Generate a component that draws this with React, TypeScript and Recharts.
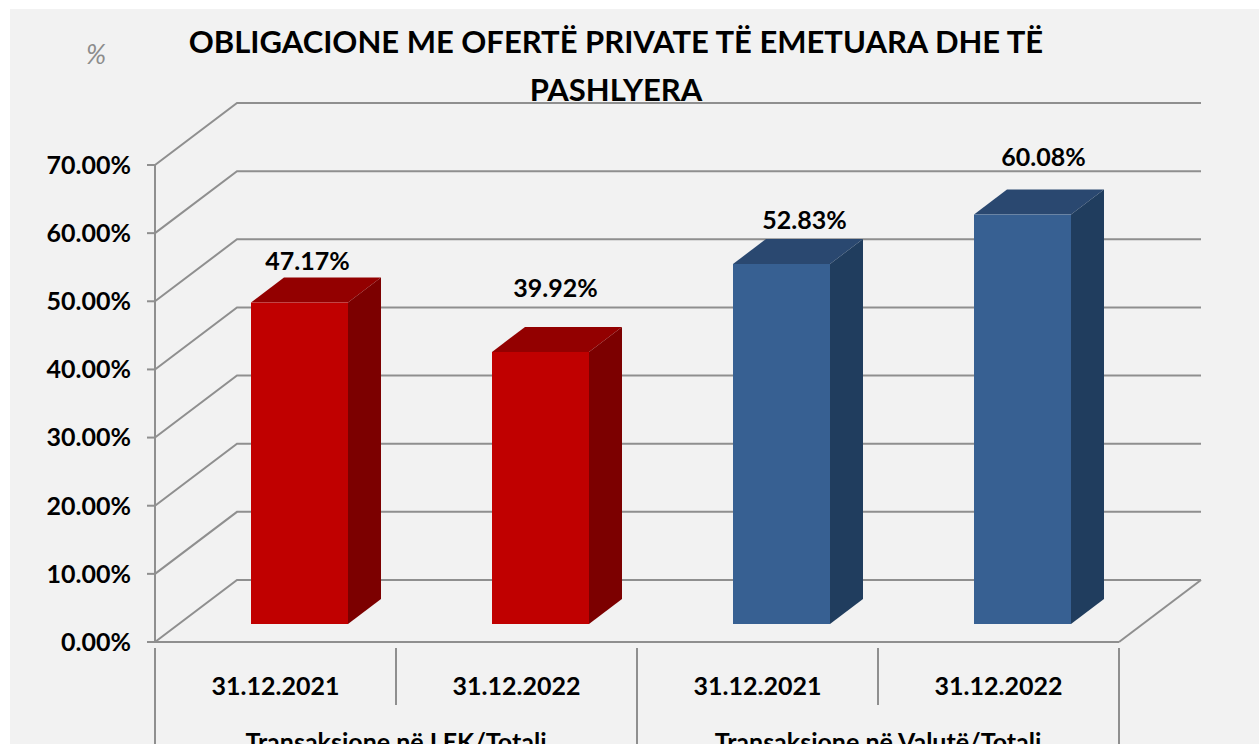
import { BarChart, Bar, XAxis, YAxis, CartesianGrid, Cell, LabelList } from 'recharts'

const periods = ['31.12.2021', '31.12.2022', '31.12.2021', '31.12.2022']
const groups = ['Transaksione në LEK/Totali', 'Transaksione në LEK/Totali', 'Transaksione në Valutë/Totali', 'Transaksione në Valutë/Totali']
const shares = [47.17, 39.92, 52.83, 60.08]
const yTicks = [0, 10, 20, 30, 40, 50, 60, 70]

const chartData = periods.map((period, i) => ({ period, group: groups[i], share: shares[i] }))

const WIDTH = 1259
const HEIGHT = 744
const PLOT_LEFT = 155
const PLOT_RIGHT = 1119
const BAND = (PLOT_RIGHT - PLOT_LEFT) / periods.length
const DEPTH_X = 82
const DEPTH_Y = 62
const GRID = '#8f8f8f'
const FONT = 'Lato, sans-serif'

const faces = [
  { front: '#c00000', top: '#930000', side: '#7c0000' },
  { front: '#c00000', top: '#930000', side: '#7c0000' },
  { front: '#376092', top: '#2a4870', side: '#203d5e' },
  { front: '#376092', top: '#2a4870', side: '#203d5e' },
]
// where the labels sit relative to the bar top, they are not evenly placed in the original
const labelNudge = [
  { dx: 8, dy: -42 },
  { dx: 15, dy: -64 },
  { dx: 23, dy: -44 },
  { dx: 21, dy: -58 },
]

function Bar3D(props: any) {
  const { x, y, width, height, index } = props
  const c = faces[index]
  // bars stand on the middle of the floor, not on the front edge
  const left = x + 24
  const top = y - 18
  const right = left + width
  const bottom = top + height
  const dx = 33
  const dy = 25
  return (
    <g>
      <path d={`M${left},${top} L${left + dx},${top - dy} L${right + dx},${top - dy} L${right},${top} Z`} fill={c.top} />
      <path d={`M${right},${top} L${right + dx},${top - dy} L${right + dx},${bottom - dy} L${right},${bottom} Z`} fill={c.side} />
      <rect x={left} y={top} width={width} height={height} fill={c.front} />
    </g>
  )
}

function WallLine(props: any) {
  const { x1, x2, y1, index } = props
  const isFloor = index === 0 || y1 > 630
  return (
    <g stroke={GRID} strokeWidth={2} fill="none">
      <path d={`M${x1},${y1} L${x1 + DEPTH_X},${y1 - DEPTH_Y} L${x2 + DEPTH_X},${y1 - DEPTH_Y}`} />
      {isFloor && <path d={`M${x2},${y1} L${x2 + DEPTH_X},${y1 - DEPTH_Y}`} />}
    </g>
  )
}

function CategoryTick(props: any) {
  const { x, y, payload } = props
  const i = payload.index
  const edge = x - BAND / 2
  const startsGroup = i % 2 === 0
  return (
    <g>
      <line x1={edge} y1={y} x2={edge} y2={startsGroup ? HEIGHT : y + 57} stroke={GRID} strokeWidth={2} />
      {i === periods.length - 1 && (
        <line x1={edge + BAND} y1={y} x2={edge + BAND} y2={HEIGHT} stroke={GRID} strokeWidth={2} />
      )}
      <text x={x} y={y + 47} textAnchor="middle" fontFamily={FONT} fontWeight={700} fontSize={25} fill="#000">
        {payload.value}
      </text>
      {startsGroup && (
        <text x={edge + BAND} y={y + 103} textAnchor="middle" fontFamily={FONT} fontWeight={700} fontSize={25} fill="#000">
          {groups[i]}
        </text>
      )}
    </g>
  )
}

function ValueLabel(props: any) {
  const { x, y, width, value, index } = props
  const n = labelNudge[index]
  return (
    <text x={x + 24 + width / 2 + n.dx} y={y - 18 + n.dy + 9} textAnchor="middle" fontFamily={FONT} fontWeight={700} fontSize={25} fill="#000">
      {Number(value).toFixed(2)}%
    </text>
  )
}

export default function App() {
  return (
    <div style={{ position: 'absolute', left: 0, top: 0, width: WIDTH, height: HEIGHT, overflow: 'hidden', background: '#fff' }}>
      <div style={{ position: 'absolute', left: 10, top: 9, right: 0, bottom: 0, background: '#f2f2f2' }} />
      <div style={{ position: 'absolute', left: 86, top: 37, fontFamily: FONT, fontStyle: 'italic', fontSize: 27, color: '#8c8c8c' }}>%</div>
      <div
        style={{
          position: 'absolute',
          left: 100,
          width: 1032,
          top: 17,
          textAlign: 'center',
          fontFamily: FONT,
          fontWeight: 700,
          fontSize: 31,
          lineHeight: '48px',
          color: '#000',
        }}
      >
        OBLIGACIONE ME OFERTË PRIVATE TË EMETUARA DHE TË
        <br />
        PASHLYERA
      </div>
      <div style={{ position: 'absolute', left: 0, top: 0 }}>
        <BarChart
          width={WIDTH}
          height={HEIGHT}
          data={chartData}
          margin={{ top: 165, right: WIDTH - PLOT_RIGHT, bottom: 42, left: PLOT_LEFT - 100 }}
          barSize={97}
          style={{ overflow: 'visible' }}
        >
          <CartesianGrid vertical={false} horizontal={(p: any) => <WallLine key={p.key} {...p} />} />
          <XAxis
            dataKey="period"
            height={60}
            interval={0}
            axisLine={{ stroke: GRID, strokeWidth: 2 }}
            tickLine={false}
            tickMargin={0}
            tick={(p: any) => <CategoryTick {...p} />}
          />
          <YAxis
            width={100}
            domain={[0, 70]}
            ticks={yTicks}
            interval={0}
            axisLine={{ stroke: GRID, strokeWidth: 2 }}
            tickLine={{ stroke: GRID, strokeWidth: 2 }}
            tickSize={8}
            tickMargin={16}
            tickFormatter={(v: number) => `${v.toFixed(2)}%`}
            tick={{ fontFamily: FONT, fontWeight: 700, fontSize: 25, fill: '#000' }}
          />
          <Bar dataKey="share" isAnimationActive={false} shape={(p: any) => <Bar3D {...p} />}>
            {chartData.map((_, i) => (
              <Cell key={i} fill={faces[i].front} />
            ))}
            <LabelList dataKey="share" content={(p: any) => <ValueLabel {...p} />} />
          </Bar>
        </BarChart>
      </div>
    </div>
  )
}
